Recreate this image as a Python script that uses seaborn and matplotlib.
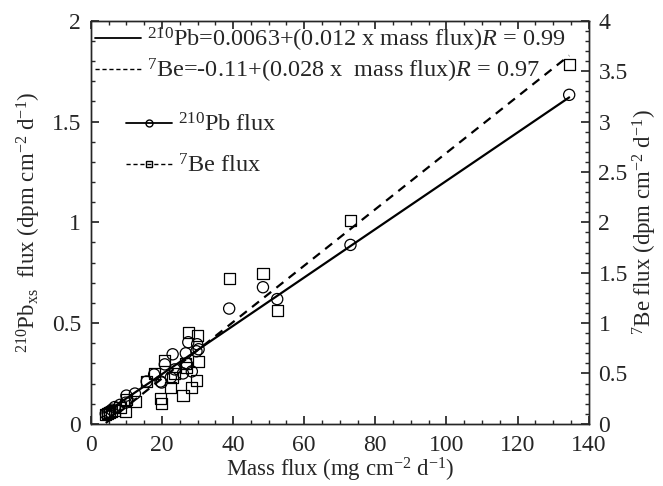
import matplotlib
matplotlib.use("Agg")
import matplotlib.pyplot as plt
from matplotlib.lines import Line2D
from matplotlib.ticker import MultipleLocator, FormatStrFormatter
import seaborn as sns
import numpy as np
import pandas as pd

# mass flux of each trap sample (mg cm-2 d-1)
mass_flux = [4.2, 4.7, 5.2, 5.9, 6.7, 8.2, 9.8, 10.0, 12.4, 15.7,
             17.8, 19.6, 19.9, 20.8, 22.5, 23.0, 23.6, 25.9, 26.7, 26.9,
             27.4, 28.4, 29.7, 29.9, 30.3, 38.9, 48.4, 52.4, 73.0, 134.5]
# 210Pb xs flux (left axis)
pb_flux = [0.05, 0.055, 0.06, 0.07, 0.083, 0.094, 0.105, 0.14, 0.15, 0.21,
           0.245, 0.21, 0.205, 0.295, 0.23, 0.345, 0.27, 0.25, 0.35, 0.30,
           0.405, 0.26, 0.36, 0.395, 0.37, 0.572, 0.678, 0.619, 0.888, 1.633]
# 7Be flux (right axis)
be_flux = [0.09, 0.10, 0.11, 0.12, 0.13, 0.16, 0.12, 0.24, 0.22, 0.42,
           0.50, 0.255, 0.205, 0.63, 0.36, 0.46, 0.50, 0.28, 0.60, 0.56,
           0.91, 0.36, 0.43, 0.88, 0.62, 1.44, 1.49, 1.125, 2.02, 3.57]

# regression coefficients (intercept, slope)
pb_fit = (0.0063, 0.012)
be_fit = (-0.11, 0.028)

df = pd.DataFrame({"mass": mass_flux, "pb": pb_flux, "be": be_flux})
xfit = np.array([min(mass_flux), max(mass_flux)])
fit_df = pd.DataFrame({"mass": xfit,
                       "pb": pb_fit[0] + pb_fit[1] * xfit,
                       "be": be_fit[0] + be_fit[1] * xfit})

sns.set_theme(style="ticks")
plt.rcParams["font.family"] = ["Liberation Serif", "DejaVu Serif"]
plt.rcParams["mathtext.fontset"] = "custom"
plt.rcParams["mathtext.rm"] = "Liberation Serif"
plt.rcParams["mathtext.it"] = "Liberation Serif:italic"
plt.rcParams["axes.linewidth"] = 1.0
fs = 17      # tick labels
legfs = 17.5 # legend
lfs = 16.5   # axis labels

fig = plt.figure(figsize=(6.63, 4.86), dpi=100)
ax = fig.add_axes([0.137, 0.128, 0.751, 0.829])
ax2 = ax.twinx()

# fit lines
sns.lineplot(data=fit_df, x="mass", y="pb", ax=ax, color="black", lw=1.6)
sns.lineplot(data=fit_df, x="mass", y="be", ax=ax2, color="black", lw=1.6,
             linestyle=(0, (4, 3)))

# data points
sns.scatterplot(data=df, x="mass", y="pb", ax=ax, marker="o", s=65,
                fc="none", ec="black", linewidth=0.9, zorder=3)
sns.scatterplot(data=df, x="mass", y="be", ax=ax2, marker="s", s=65,
                fc="none", ec="black", linewidth=0.9, zorder=3)

ax.set_xlim(0, 140)
ax.set_ylim(0, 2)
ax2.set_ylim(0, 4)

ax.xaxis.set_major_locator(MultipleLocator(20))
ax.xaxis.set_minor_locator(MultipleLocator(5))
ax.yaxis.set_major_locator(MultipleLocator(0.5))
ax.yaxis.set_minor_locator(MultipleLocator(0.1))
ax2.yaxis.set_major_locator(MultipleLocator(0.5))
ax2.yaxis.set_minor_locator(MultipleLocator(0.1))
ax.yaxis.set_major_formatter(FormatStrFormatter("%g"))
ax2.yaxis.set_major_formatter(FormatStrFormatter("%g"))

ax.tick_params(axis="both", which="both", direction="in", top=True,
               labelsize=fs)
ax.tick_params(axis="y", pad=7)
ax.tick_params(axis="x", pad=8)
ax.tick_params(which="major", length=6)
ax.tick_params(which="minor", length=3)
ax2.tick_params(axis="y", which="both", direction="in", labelsize=fs, pad=7)
ax2.tick_params(which="major", length=6)
ax2.tick_params(which="minor", length=3)

ax.set_xlabel("Mass flux (mg cm$^{-2}$ d$^{-1}$)", fontsize=lfs, labelpad=0)
ax.set_ylabel("$^{210}$Pb$_{\\mathrm{xs}}$  flux (dpm cm$^{-2}$ d$^{-1}$)",
              fontsize=lfs, labelpad=6)
ax2.set_ylabel("$^{7}$Be flux (dpm cm$^{-2}$ d$^{-1}$)", fontsize=lfs,
               rotation=90, labelpad=2)

# legends
h1 = [Line2D([], [], color="black", lw=1.3),
      Line2D([], [], color="black", lw=1.0, linestyle=(0, (3, 2)))]
l1 = ["$^{210}$Pb=0.0063+(0.012 x mass flux)$R$ = 0.99",
      "$^{7}$Be=-0.11+(0.028 x  mass flux)$R$ = 0.97"]
leg1 = ax2.legend(h1, l1, loc="upper left", bbox_to_anchor=(0.008, 0.988),
                  frameon=False, fontsize=legfs, handlelength=1.9,
                  handletextpad=0.25, labelspacing=0.14, borderpad=0,
                  borderaxespad=0)
ax2.add_artist(leg1)
h2 = [Line2D([], [], color="black", lw=1.3, marker="o", ms=5, mfc="none"),
      Line2D([], [], color="black", lw=1.0, linestyle=(0, (3, 2)),
             marker="s", ms=5, mfc="none")]
l2 = ["$^{210}$Pb flux", "$^{7}$Be flux"]
ax2.legend(h2, l2, loc="upper left", bbox_to_anchor=(0.07, 0.77),
           frameon=False, fontsize=legfs, handlelength=1.9,
           handletextpad=0.25, labelspacing=0.72, borderpad=0,
           borderaxespad=0)

plt.savefig("out.png", dpi=100)
